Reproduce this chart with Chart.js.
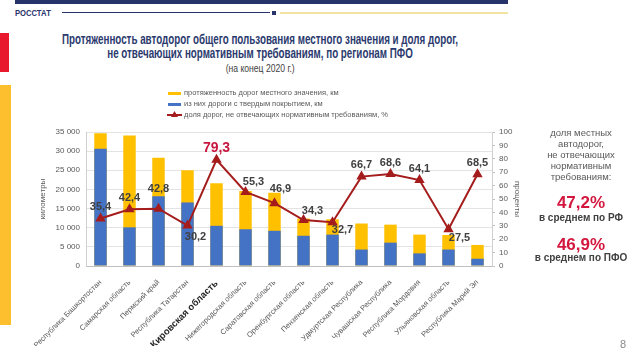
<!DOCTYPE html>
<html>
<head>
<meta charset="utf-8">
<script src="https://cdn.jsdelivr.net/npm/chart.js@4/dist/chart.umd.min.js"></script>
<style>
  html, body { margin: 0; padding: 0; background: #fff; }
  #page { position: relative; width: 640px; height: 360px; overflow: hidden; font-family: "Liberation Sans", Arial, sans-serif; }
  #page div { position: absolute; }
  canvas { position: absolute; left: 0; top: 0; }
  .t { white-space: nowrap; }
  .sq { display: inline-block; transform-origin: center top; }
</style>
</head>
<body>
<div id="page">
  <div style="left:15px;top:0;width:493px;height:4px;background:#27346b"></div>
  <div class="t" style="left:15px;top:8px;font-size:9px;font-weight:bold;color:#27346b;line-height:10px"><span class="sq" style="transform:scaleX(0.85);transform-origin:left top">РОССТАТ</span></div>
  <div style="left:62px;top:12px;width:208px;height:1px;background:#27346b"></div>
  <div style="left:272px;top:11px;width:4px;height:4px;background:#27346b"></div>
  <div style="left:280px;top:12px;width:228px;height:2px;background:#f1e4a0"></div>
  <div style="left:0;top:33px;width:9px;height:39px;background:#e8192c"></div>
  <div style="left:0;top:85px;width:11px;height:240px;background:#fdbf2d"></div>

  <div class="t" style="left:-140px;top:32px;width:800px;text-align:center;font-size:14px;line-height:14px;font-weight:bold;color:#2b3a6e"><span class="sq" style="transform:scaleX(0.7)">Протяженность автодорог общего пользования местного значения и доля дорог,<br>не отвечающих нормативным требованиям, по регионам ПФО</span></div>
  <div class="t" style="left:0;top:62px;width:520px;text-align:center;font-size:11px;line-height:12px;color:#404040"><span class="sq" style="transform:scaleX(0.78)">(на конец 2020 г.)</span></div>

  <canvas id="chart" width="640" height="360"></canvas>

  <div style="left:168px;top:92px;width:13px;height:3px;background:#ffc000"></div>
  <div class="t" style="left:184px;top:88px;font-size:7.5px;line-height:10px;color:#595959">протяженность дорог местного значения, км</div>
  <div style="left:168px;top:103px;width:13px;height:3px;background:#4472c4"></div>
  <div class="t" style="left:184px;top:99px;font-size:7.5px;line-height:10px;color:#595959">из них дороги с твердым покрытием, км</div>
  <svg style="position:absolute;left:167px;top:110px" width="16" height="9"><line x1="0" y1="5" x2="15" y2="5" stroke="#a51c1c" stroke-width="2"/><polygon points="7.5,1 11,7 4,7" fill="#a51c1c"/></svg>
  <div class="t" style="left:184px;top:110px;font-size:7.5px;line-height:10px;color:#595959">доля дорог, не отвечающих нормативным требованиям, %</div>

  <div class="t" style="left:521px;top:127px;width:120px;text-align:center;font-size:9.5px;line-height:11px;color:#595959">доля местных<br>автодорог,<br>не отвечающих<br>нормативным<br>требованиям:</div>
  <div class="t" style="left:521px;top:194px;width:120px;text-align:center;font-size:17px;line-height:18px;font-weight:bold;color:#d4173e">47,2%</div>
  <div class="t" style="left:521px;top:212px;width:120px;text-align:center;font-size:10px;line-height:12px;font-weight:bold;color:#404040">в среднем по РФ</div>
  <div class="t" style="left:521px;top:236px;width:120px;text-align:center;font-size:17px;line-height:18px;font-weight:bold;color:#d4173e">46,9%</div>
  <div class="t" style="left:521px;top:252px;width:120px;text-align:center;font-size:10px;line-height:12px;font-weight:bold;color:#404040">в среднем по ПФО</div>

  <div class="t" style="left:620px;top:338px;font-size:11px;color:#8a8a8a">8</div>
</div>
<script>
const regions = [
  "Республика Башкортостан", "Самарская область", "Пермский край", "Республика Татарстан",
  "Кировская область", "Нижегородская область", "Саратовская область", "Оренбургская область",
  "Пензенская область", "Удмуртская Республика", "Чувашская Республика", "Республика Мордовия",
  "Ульяновская область", "Республика Марий Эл"
];
const totalKm = [34700, 34100, 28300, 25000, 21600, 19600, 19100, 12400, 12200, 11100, 10800, 8200, 8100, 5500];
const pavedKm = [30600, 10100, 18200, 16600, 10500, 9600, 9200, 7900, 8200, 4300, 6100, 3300, 4300, 1900];
const badShare = [35.4, 42.4, 42.8, 30.2, 79.3, 55.3, 46.9, 34.3, 32.7, 66.7, 68.6, 64.1, 27.5, 68.5];
const kmTicks = [0, 5000, 10000, 15000, 20000, 25000, 30000, 35000];

// label offsets from the marker (dx, dy)
const labelOffsets = [
  [0, -12], [0, -11], [0, -20], [8, 11], [0, -12], [8, -10], [6, -14],
  [9, -9], [10, 8], [0, -12], [0, -11], [0, -11], [11, 9], [0, -11]
];

const lineLabels = {
  id: "lineLabels",
  afterDatasetsDraw(chart) {
    const meta = chart.getDatasetMeta(2);
    const ctx = chart.ctx;
    ctx.save();
    ctx.textAlign = "center";
    ctx.textBaseline = "middle";
    meta.data.forEach((pt, i) => {
      const txt = badShare[i].toFixed(1).replace(".", ",");
      if (i === 4) {
        ctx.font = "bold 14px 'Liberation Sans', Arial";
        ctx.fillStyle = "#c8173f";
      } else {
        ctx.font = "bold 11px 'Liberation Sans', Arial";
        ctx.fillStyle = "#404040";
      }
      ctx.fillText(txt, pt.x + labelOffsets[i][0], pt.y + labelOffsets[i][1]);
    });
    ctx.restore();
  }
};

const ctx = document.getElementById("chart").getContext("2d");
new Chart(ctx, {
  type: "bar",
  data: {
    labels: regions,
    datasets: [{
      label: "протяженность дорог местного значения, км",
      data: totalKm,
      backgroundColor: "#ffc000",
      yAxisID: "y",
      order: 2,
      barPercentage: 0.43,
      categoryPercentage: 1
    }, {
      label: "из них дороги с твердым покрытием, км",
      data: pavedKm,
      backgroundColor: "#4472c4",
      yAxisID: "y",
      order: 1,
      barPercentage: 0.43,
      categoryPercentage: 1
    }, {
      type: "line",
      label: "доля дорог, не отвечающих нормативным требованиям, %",
      data: badShare,
      borderColor: "#a51c1c",
      backgroundColor: "#a51c1c",
      borderWidth: 2,
      pointStyle: "triangle",
      pointRadius: 4,
      yAxisID: "y1",
      order: 0
    }]
  },
  options: {
    responsive: false,
    animation: false,
    layout: { padding: { left: 34, right: 114, top: 132, bottom: 14 } },
    plugins: {
      legend: { display: false },
      tooltip: { enabled: false }
    },
    scales: {
      x: {
        stacked: true,
        grid: { display: false },
        border: { color: "#bfbfbf" },
        afterFit: (s) => { s.height = 80; },
        ticks: {
          autoSkip: false,
          minRotation: 45,
          maxRotation: 45,
          padding: 4,
          color: (c) => c.index === 4 ? "#262626" : "#595959",
          font: (c) => c.index === 4
            ? { family: "'Liberation Sans', Arial", size: 9.5, weight: "bold" }
            : { family: "'Liberation Sans', Arial", size: 7.5 }
        }
      },
      y: {
        position: "left",
        min: 0,
        max: 35000,
        afterFit: (s) => { s.width = 52; },
        afterBuildTicks: (s) => { s.ticks = kmTicks.map(v => ({ value: v })); },
        grid: { color: "#e3e3e3", drawTicks: false },
        border: { color: "#d0d0d0" },
        title: { display: true, text: "километры", color: "#595959", font: { family: "'Liberation Sans', Arial", size: 8 } },
        ticks: {
          padding: 6,
          color: "#595959",
          font: { family: "'Liberation Sans', Arial", size: 8 },
          callback: (v) => v.toString().replace(/\B(?=(\d{3})+(?!\d))/g, " ")
        }
      },
      y1: {
        position: "right",
        min: 0,
        max: 100,
        afterFit: (s) => { s.width = 34; },
        grid: { drawOnChartArea: false, tickLength: 3, color: "#bfbfbf" },
        border: { color: "#d0d0d0" },
        title: { display: true, text: "проценты", color: "#595959", font: { family: "'Liberation Sans', Arial", size: 8 } },
        ticks: {
          stepSize: 10,
          padding: 4,
          color: "#595959",
          font: { family: "'Liberation Sans', Arial", size: 8 }
        }
      }
    }
  },
  plugins: [lineLabels]
});
</script>
</body>
</html>
